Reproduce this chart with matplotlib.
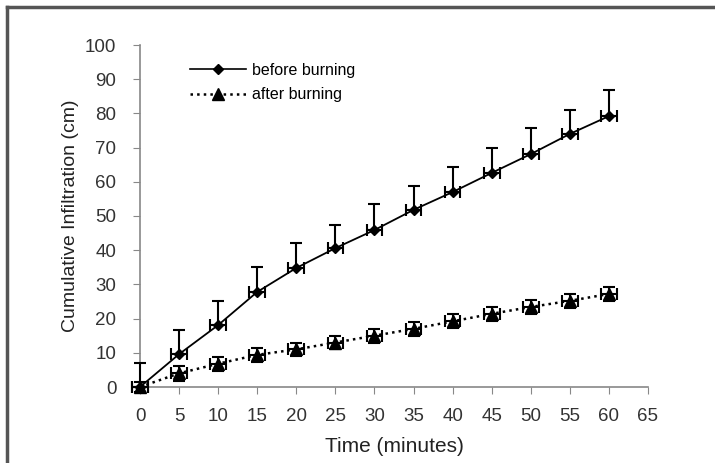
import matplotlib.pyplot as plt
from matplotlib.lines import Line2D

plt.rcParams['font.family'] = ['Liberation Sans', 'DejaVu Sans']

time_min = [0, 5, 10, 15, 20, 25, 30, 35, 40, 45, 50, 55, 60]
before = [0, 9.6, 18.1, 27.8, 34.8, 40.6, 45.9, 51.8, 57.0, 62.6, 68.1, 74.0, 79.2]
before_err = [7.0, 7.1, 7.1, 7.2, 7.2, 6.8, 7.6, 7.0, 7.3, 7.3, 7.6, 7.0, 7.6]
after = [0, 4.0, 6.8, 9.4, 11.0, 13.0, 15.0, 17.0, 19.2, 21.4, 23.4, 25.2, 27.2]
after_err = [1.5, 2.2, 2.0, 2.0, 1.8, 2.0, 2.0, 2.0, 2.0, 2.0, 2.0, 2.0, 2.0]
time_err = [1.0] * len(time_min)

fig = plt.figure(figsize=(7.15, 4.63), dpi=100)
ax = fig.add_axes([140 / 715, 1 - 387 / 463, (648 - 140) / 715, (387 - 45) / 463])

# frame around the figure (top and left only)
fig.add_artist(Line2D([7 / 715, 1], [1 - 7 / 463, 1 - 7 / 463], color='#555555', lw=2.5,
                      transform=fig.transFigure))
fig.add_artist(Line2D([7 / 715, 7 / 715], [0, 1 - 7 / 463], color='#555555', lw=2.5,
                      transform=fig.transFigure))

zeros = [0] * len(time_min)
eb1 = ax.errorbar(time_min, before, yerr=[zeros, before_err], xerr=time_err, fmt='-D',
                  color='black', ms=5, lw=1.3, elinewidth=1.5, capsize=4, capthick=1.5,
                  zorder=3)
eb2 = ax.errorbar(time_min, after, yerr=after_err, xerr=time_err, fmt=':^',
                  color='black', ms=8, lw=1.8, elinewidth=1.5, capsize=4, capthick=1.5,
                  zorder=3)
for eb in (eb1, eb2):
    for art in eb.get_children():
        art.set_clip_on(False)

ax.set_xlim(0, 65)
ax.set_ylim(0, 100)
ax.set_xticks(range(0, 66, 5))
ax.set_yticks(range(0, 101, 10))
for s in ['top', 'right']:
    ax.spines[s].set_visible(False)
for s in ['left', 'bottom']:
    ax.spines[s].set_color('#888888')
    ax.spines[s].set_linewidth(1.2)
ax.tick_params(colors='#888888', labelcolor='#333333', labelsize=13.5, length=5, direction='out')
ax.tick_params(axis='x', pad=10)
ax.tick_params(axis='y', pad=12)

ax.set_xlabel('Time (minutes)', fontsize=15, color='#222222', labelpad=9)
ax.set_ylabel('Cumulative Infiltration (cm)', fontsize=14, color='#222222', labelpad=4)

leg_handles = [Line2D([], [], color='black', ls='-', marker='D', ms=5, lw=1.2),
               Line2D([], [], color='black', ls=':', marker='^', ms=8, lw=1.8)]
ax.legend(leg_handles, ['before burning', 'after burning'], loc='upper left',
          bbox_to_anchor=(0.07, 0.99), frameon=False, fontsize=11.5, handlelength=3.5,
          handletextpad=0.4, labelspacing=0.6)

plt.savefig('out.png', dpi=100, facecolor='white')
plt.close()
